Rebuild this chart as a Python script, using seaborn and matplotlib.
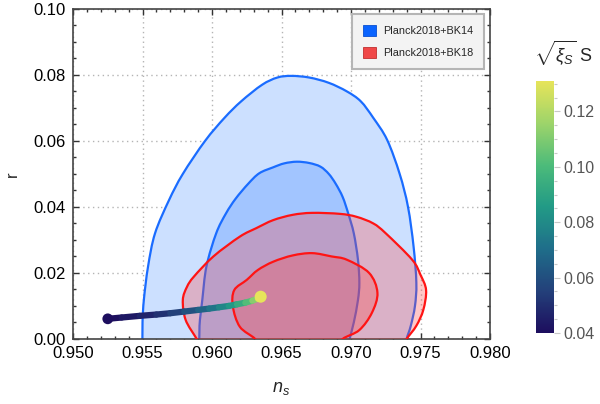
import numpy as np
import pandas as pd
import seaborn as sns
import matplotlib.pyplot as plt
from matplotlib.collections import LineCollection
from matplotlib.colors import LinearSegmentedColormap, Normalize
from matplotlib.patches import Patch, PathPatch
from matplotlib.path import Path
from matplotlib.ticker import MultipleLocator
import matplotlib as mpl

# Planck2018+BK14 contours (95% and 68%)
ns_b95 = [0.9550, 0.9550, 0.9551, 0.9554, 0.9559, 0.9569, 0.9579, 0.9595, 0.9609, 0.9621,
          0.9636, 0.9647, 0.9657, 0.9670, 0.9684, 0.9697, 0.9707, 0.9716, 0.9726, 0.9735,
          0.9741, 0.9745, 0.9747, 0.9746, 0.9743, 0.9740, 0.9739]
r_b95 = [-0.003, 0.005, 0.012, 0.022, 0.032, 0.042, 0.050, 0.060, 0.067, 0.072,
         0.0770, 0.0792, 0.0797, 0.0792, 0.0776, 0.0750, 0.072, 0.067, 0.0603, 0.050,
         0.040, 0.028, 0.017, 0.010, 0.004, 0.000, -0.003]
ns_b68 = [0.9591, 0.9591, 0.9593, 0.9596, 0.9603, 0.9610, 0.9617, 0.9626, 0.9634, 0.9644,
          0.9652, 0.9661, 0.9670, 0.9678, 0.9684, 0.9689, 0.9694, 0.9698, 0.9702, 0.9705,
          0.9706, 0.9705, 0.9702, 0.9699, 0.9698]
r_b68 = [-0.003, 0.004, 0.0118, 0.022, 0.032, 0.038, 0.0425, 0.047, 0.0502, 0.052,
         0.0532, 0.0537, 0.0533, 0.0522, 0.050, 0.047, 0.043, 0.038, 0.032, 0.024,
         0.017, 0.0118, 0.005, 0.000, -0.003]

# Planck2018+BK18 contours
ns_r95 = [0.9593, 0.9589, 0.9581, 0.9579, 0.9582, 0.9587, 0.9601, 0.9620, 0.9632, 0.9644,
          0.9658, 0.9672, 0.9692, 0.9704, 0.9716, 0.9725, 0.9744, 0.9750, 0.9754, 0.9752,
          0.9747, 0.9740, 0.9736]
r_r95 = [-0.003, 0.000, 0.0058, 0.0118, 0.0158, 0.0189, 0.025, 0.031, 0.0336, 0.036,
         0.0376, 0.0382, 0.0379, 0.037, 0.035, 0.032, 0.024, 0.0194, 0.0148, 0.0088,
         0.004, 0.000, -0.003]
ns_r68 = [0.9634, 0.9631, 0.9620, 0.9615, 0.9616, 0.9625, 0.9633, 0.9644, 0.9658, 0.9672,
          0.9686, 0.9697, 0.9713, 0.9719, 0.9715, 0.9706, 0.9694, 0.9690]
r_r68 = [-0.003, 0.000, 0.0037, 0.0098, 0.0148, 0.0179, 0.0209, 0.0234, 0.0253, 0.026,
         0.0250, 0.024, 0.020, 0.014, 0.0079, 0.0027, 0.000, -0.003]

# model track, coloured by sqrt(xi_S) S
ns_line = [0.9525, 0.9535, 0.9548, 0.9560, 0.9570, 0.9580, 0.9590, 0.9598, 0.9605, 0.9612,
           0.9618, 0.9624, 0.9629, 0.9633, 0.9635]
r_line = [0.0061, 0.0065, 0.0070, 0.0074, 0.0078, 0.0083, 0.0088, 0.0092, 0.0096, 0.0100,
          0.0105, 0.0110, 0.0116, 0.0122, 0.0128]
xi_line = [0.040, 0.042, 0.045, 0.049, 0.053, 0.058, 0.064, 0.070, 0.076, 0.082,
           0.089, 0.097, 0.106, 0.117, 0.131]

legend_labels = ['Planck2018+BK14', 'Planck2018+BK18']
cbar_ticks = [0.04, 0.06, 0.08, 0.10, 0.12]


def smooth_path(xs, ys, close=False):
    # Catmull-Rom through the read points, drawn as cubic Bezier segments
    p = np.column_stack([xs, ys])
    q = np.vstack([p[0], p, p[-1]])
    verts = [p[0]]
    codes = [Path.MOVETO]
    for i in range(1, len(q) - 2):
        c1 = q[i] + (q[i + 1] - q[i - 1]) / 6
        c2 = q[i + 1] - (q[i + 2] - q[i]) / 6
        verts += [c1, c2, q[i + 1]]
        codes += [Path.CURVE4] * 3
    if close:
        verts.append(p[0])
        codes.append(Path.CLOSEPOLY)
    return Path(verts, codes)


sns.set_theme(style='ticks')
plt.rcParams['font.family'] = ['Liberation Sans', 'DejaVu Sans']
plt.rcParams['mathtext.fontset'] = 'custom'
plt.rcParams['mathtext.it'] = 'Liberation Sans:italic'
plt.rcParams['mathtext.rm'] = 'Liberation Sans'

cmap = LinearSegmentedColormap.from_list(
    'xi', ['#1d0e5e', '#23407a', '#1f6e8a', '#229a86', '#4cbb7a', '#9ed46a', '#e6e45a'])
norm = Normalize(vmin=0.04, vmax=0.131)

fig = plt.figure(figsize=(6, 4.04), dpi=100)
ax = fig.add_axes([0.1217, 0.161, 0.695, 0.817])

blue_edge = '#1a6cff'
red_edge = '#ff1414'
red_fill = (1.0, 0.25, 0.25, 0.29)

contours = [(ns_b95, r_b95, '#cce0ff', blue_edge, 1),
            (ns_b68, r_b68, '#a2c5ff', blue_edge, 1),
            (ns_r95, r_r95, red_fill, red_edge, 3),
            (ns_r68, r_r68, red_fill, red_edge, 3)]
for xs, ys, fc, ec, z in contours:
    ax.add_patch(PathPatch(smooth_path(xs, ys, close=True), facecolor=fc, lw=0, zorder=z))
for xs, ys, fc, ec, z in contours:
    ax.add_patch(PathPatch(smooth_path(xs, ys), facecolor='none', edgecolor=ec,
                           lw=1.6, zorder=z + 1))

pts = np.column_stack([ns_line, r_line])
segs = np.stack([pts[:-1], pts[1:]], axis=1)
xi_mid = (np.array(xi_line[:-1]) + np.array(xi_line[1:])) / 2
lc = LineCollection(segs, colors=cmap(norm(xi_mid)), linewidths=4.5,
                    capstyle='round', joinstyle='round', zorder=5)
ax.add_collection(lc)

ends = pd.DataFrame({'ns': [ns_line[0], ns_line[-1]], 'r': [r_line[0], r_line[-1]],
                     'xi': [xi_line[0], xi_line[-1]]})
sns.scatterplot(data=ends, x='ns', y='r', hue='xi', palette=cmap, hue_norm=norm,
                s=[60, 75], linewidth=0, legend=False, ax=ax, zorder=6)

ax.set_xlim(0.950, 0.980)
ax.set_ylim(0.0, 0.10)
ax.xaxis.set_major_locator(MultipleLocator(0.005))
ax.xaxis.set_minor_locator(MultipleLocator(0.001))
ax.yaxis.set_major_locator(MultipleLocator(0.02))
ax.yaxis.set_minor_locator(MultipleLocator(0.005))
ax.xaxis.set_major_formatter(mpl.ticker.FormatStrFormatter('%.3f'))
ax.yaxis.set_major_formatter(mpl.ticker.FormatStrFormatter('%.2f'))
ax.tick_params(which='both', direction='in', top=True, right=True,
               color='#333333', labelsize=12, labelcolor='black', width=1)
ax.tick_params(which='major', length=4.5, pad=5)
ax.tick_params(which='minor', length=2.5)
for s in ax.spines.values():
    s.set_color('#444444')
    s.set_linewidth(1.2)
ax.grid(True, which='major', color='#b4b4b4', linestyle=(0, (1, 2.5)), lw=1)
ax.set_axisbelow(True)

ax.set_xlabel('$n_s$', fontsize=13, labelpad=14)
ax.set_ylabel('r', fontsize=12)
ax.yaxis.set_label_coords(-0.128, 0.5)

handles = [Patch(facecolor='#0a64ff', edgecolor='#0a50d0', lw=0.6),
           Patch(facecolor='#f04848', edgecolor='#c03030', lw=0.6)]
leg = ax.legend(handles, legend_labels, loc='upper right', bbox_to_anchor=(0.986, 0.985),
                borderaxespad=0, fontsize=7.8, handlelength=1.2, handleheight=1.2,
                handletextpad=0.7, labelspacing=1.0, borderpad=1.0, fancybox=False,
                framealpha=1, facecolor='#f3f3f3', edgecolor='#b5b5b5')
leg.get_frame().set_linewidth(1.5)
leg.set_zorder(10)

cax = fig.add_axes([0.893, 0.1757, 0.030, 0.624])
cb = mpl.colorbar.ColorbarBase(cax, cmap=cmap, norm=norm, ticks=cbar_ticks)
cb.outline.set_visible(False)
cb.ax.yaxis.set_minor_locator(MultipleLocator(0.005))
cb.ax.yaxis.set_major_formatter(mpl.ticker.FormatStrFormatter('%.2f'))
cb.ax.tick_params(which='both', direction='out', color='#c8c8c8', labelcolor='#555555',
                  labelsize=11.5, width=0.8)
cb.ax.tick_params(which='major', length=4, pad=3)
cb.ax.tick_params(which='minor', length=2.5)
fig.text(0.94, 0.868, r'$\sqrt{\xi_S}$ S', fontsize=13, ha='center', va='center')

fig.savefig('out.png', dpi=100)
